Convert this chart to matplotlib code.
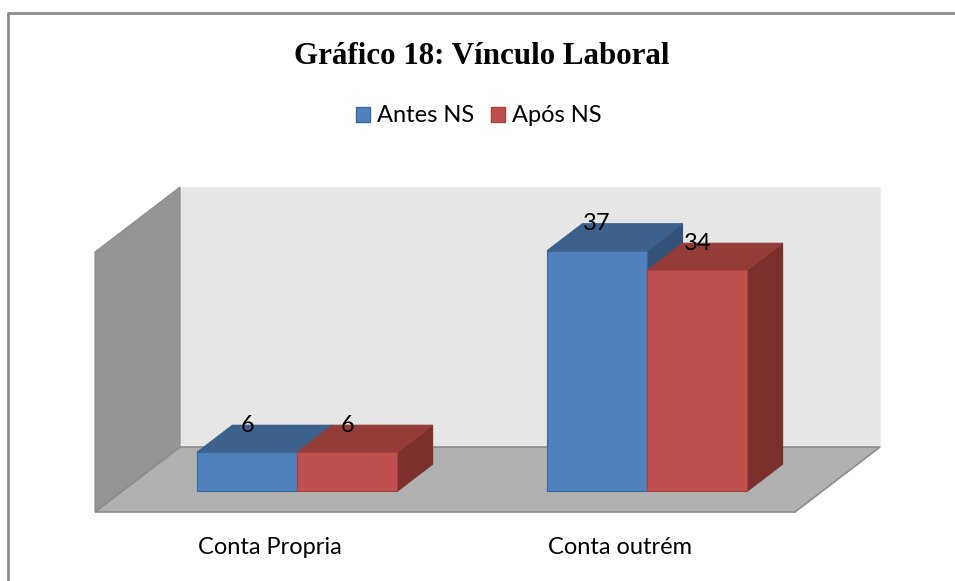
import matplotlib
matplotlib.use("Agg")
import matplotlib.pyplot as plt
from matplotlib.patches import Polygon, Patch
from matplotlib.lines import Line2D

# dados
CATEGORIES = ["Conta Propria", "Conta outrém"]
SERIES = ["Antes NS", "Após NS"]
ANTES = [6, 37]
APOS = [6, 34]
VALUES = [ANTES, APOS]

TITLE = "Gráfico 18: Vínculo Laboral"
AXIS_MAX = 40

# cores (estilo Excel 2007)
FRONT = ["#4F81BD", "#C0504D"]
TOP = ["#3C618D", "#943C3A"]
SIDE = ["#33537A", "#7B302E"]
EDGE = ["#3D6895", "#A5423F"]

# profundidade 3D: deslocamento do plano da frente para o fundo (em unidades de dados)
DX, DY = 0.243, 10.0
D0, D1 = 0.32, 0.735          # profundidade das barras (frente/fundo)
BAR_W = 0.286
FS = 17

plt.rcParams["font.family"] = ["Lato", "DejaVu Sans"]
fig = plt.figure(figsize=(9.55, 5.81), dpi=100)
ax = fig.add_axes([0, 0, 1, 1])
ax.set_xlim(-270 / 350, (955 - 270) / 350)
ax.set_ylim(-69 / 6.5, (581 - 69) / 6.5)
ax.axis("off")


def p(x, v, d):
    return (x + d * DX, v + d * DY)


def poly(pts, fc, ec="none", lw=0.8, z=1):
    ax.add_patch(Polygon(pts, closed=True, facecolor=fc, edgecolor=ec, lw=lw, zorder=z))


x0, x1 = -0.5, len(CATEGORIES) - 0.5
# parede do fundo, parede lateral e chão
poly([p(x0, 0, 1), p(x1, 0, 1), p(x1, AXIS_MAX, 1), p(x0, AXIS_MAX, 1)], "#E6E6E6", "#EDEDED", z=1)
poly([p(x0, 0, 0), p(x0, 0, 1), p(x0, AXIS_MAX, 1), p(x0, AXIS_MAX, 0)], "#959595", "#8A8A8A", z=1)
poly([p(x0, 0, 0), p(x1, 0, 0), p(x1, 0, 1), p(x0, 0, 1)], "#B0B0B0", "#8C8C8C", lw=1.2, z=2)

# barras 3D
for i in range(len(CATEGORIES)):
    for s in range(len(SERIES)):
        v = VALUES[s][i]
        xl = i - BAR_W + s * BAR_W
        xr = xl + BAR_W
        z = 3 + s
        poly([p(xr, 0, D0), p(xr, 0, D1), p(xr, v, D1), p(xr, v, D0)], SIDE[s], SIDE[s], z=z)
        poly([p(xl, v, D0), p(xr, v, D0), p(xr, v, D1), p(xl, v, D1)], TOP[s], TOP[s], z=z)
        poly([p(xl, 0, D0), p(xr, 0, D0), p(xr, v, D0), p(xl, v, D0)], FRONT[s], EDGE[s], z=z)
        tx = p(xl + BAR_W / 2, v, D0)[0]
        ty = p(xl + BAR_W / 2, v, D1)[1]
        ax.text(tx, ty, str(v), ha="center", va="center",
                fontsize=FS, color="black", zorder=10)

# rótulos das categorias
for i, c in enumerate(CATEGORIES):
    ax.text(i, -5.5, c, ha="center", va="center", fontsize=FS, color="black")

# título e legenda
fig.text(482 / 955, 1 - 56 / 581, TITLE, ha="center", va="center", fontsize=22.3,
         fontweight="bold", family=["Liberation Serif", "DejaVu Serif"])
handles = [Patch(facecolor=FRONT[s], edgecolor=EDGE[s], label=SERIES[s]) for s in range(len(SERIES))]
fig.legend(handles=handles, loc="center", bbox_to_anchor=(479 / 955, 1 - 116 / 581), ncol=2,
           frameon=False, fontsize=FS, handlelength=0.6, handleheight=0.6,
           handletextpad=0.3, columnspacing=0.7)

# moldura do gráfico
fig.add_artist(Line2D([8 / 955, 8 / 955, 1], [0, 1 - 13 / 581, 1 - 13 / 581],
                      transform=fig.transFigure, color="#8C8C8C", lw=2))

fig.savefig("out.png", dpi=100)
